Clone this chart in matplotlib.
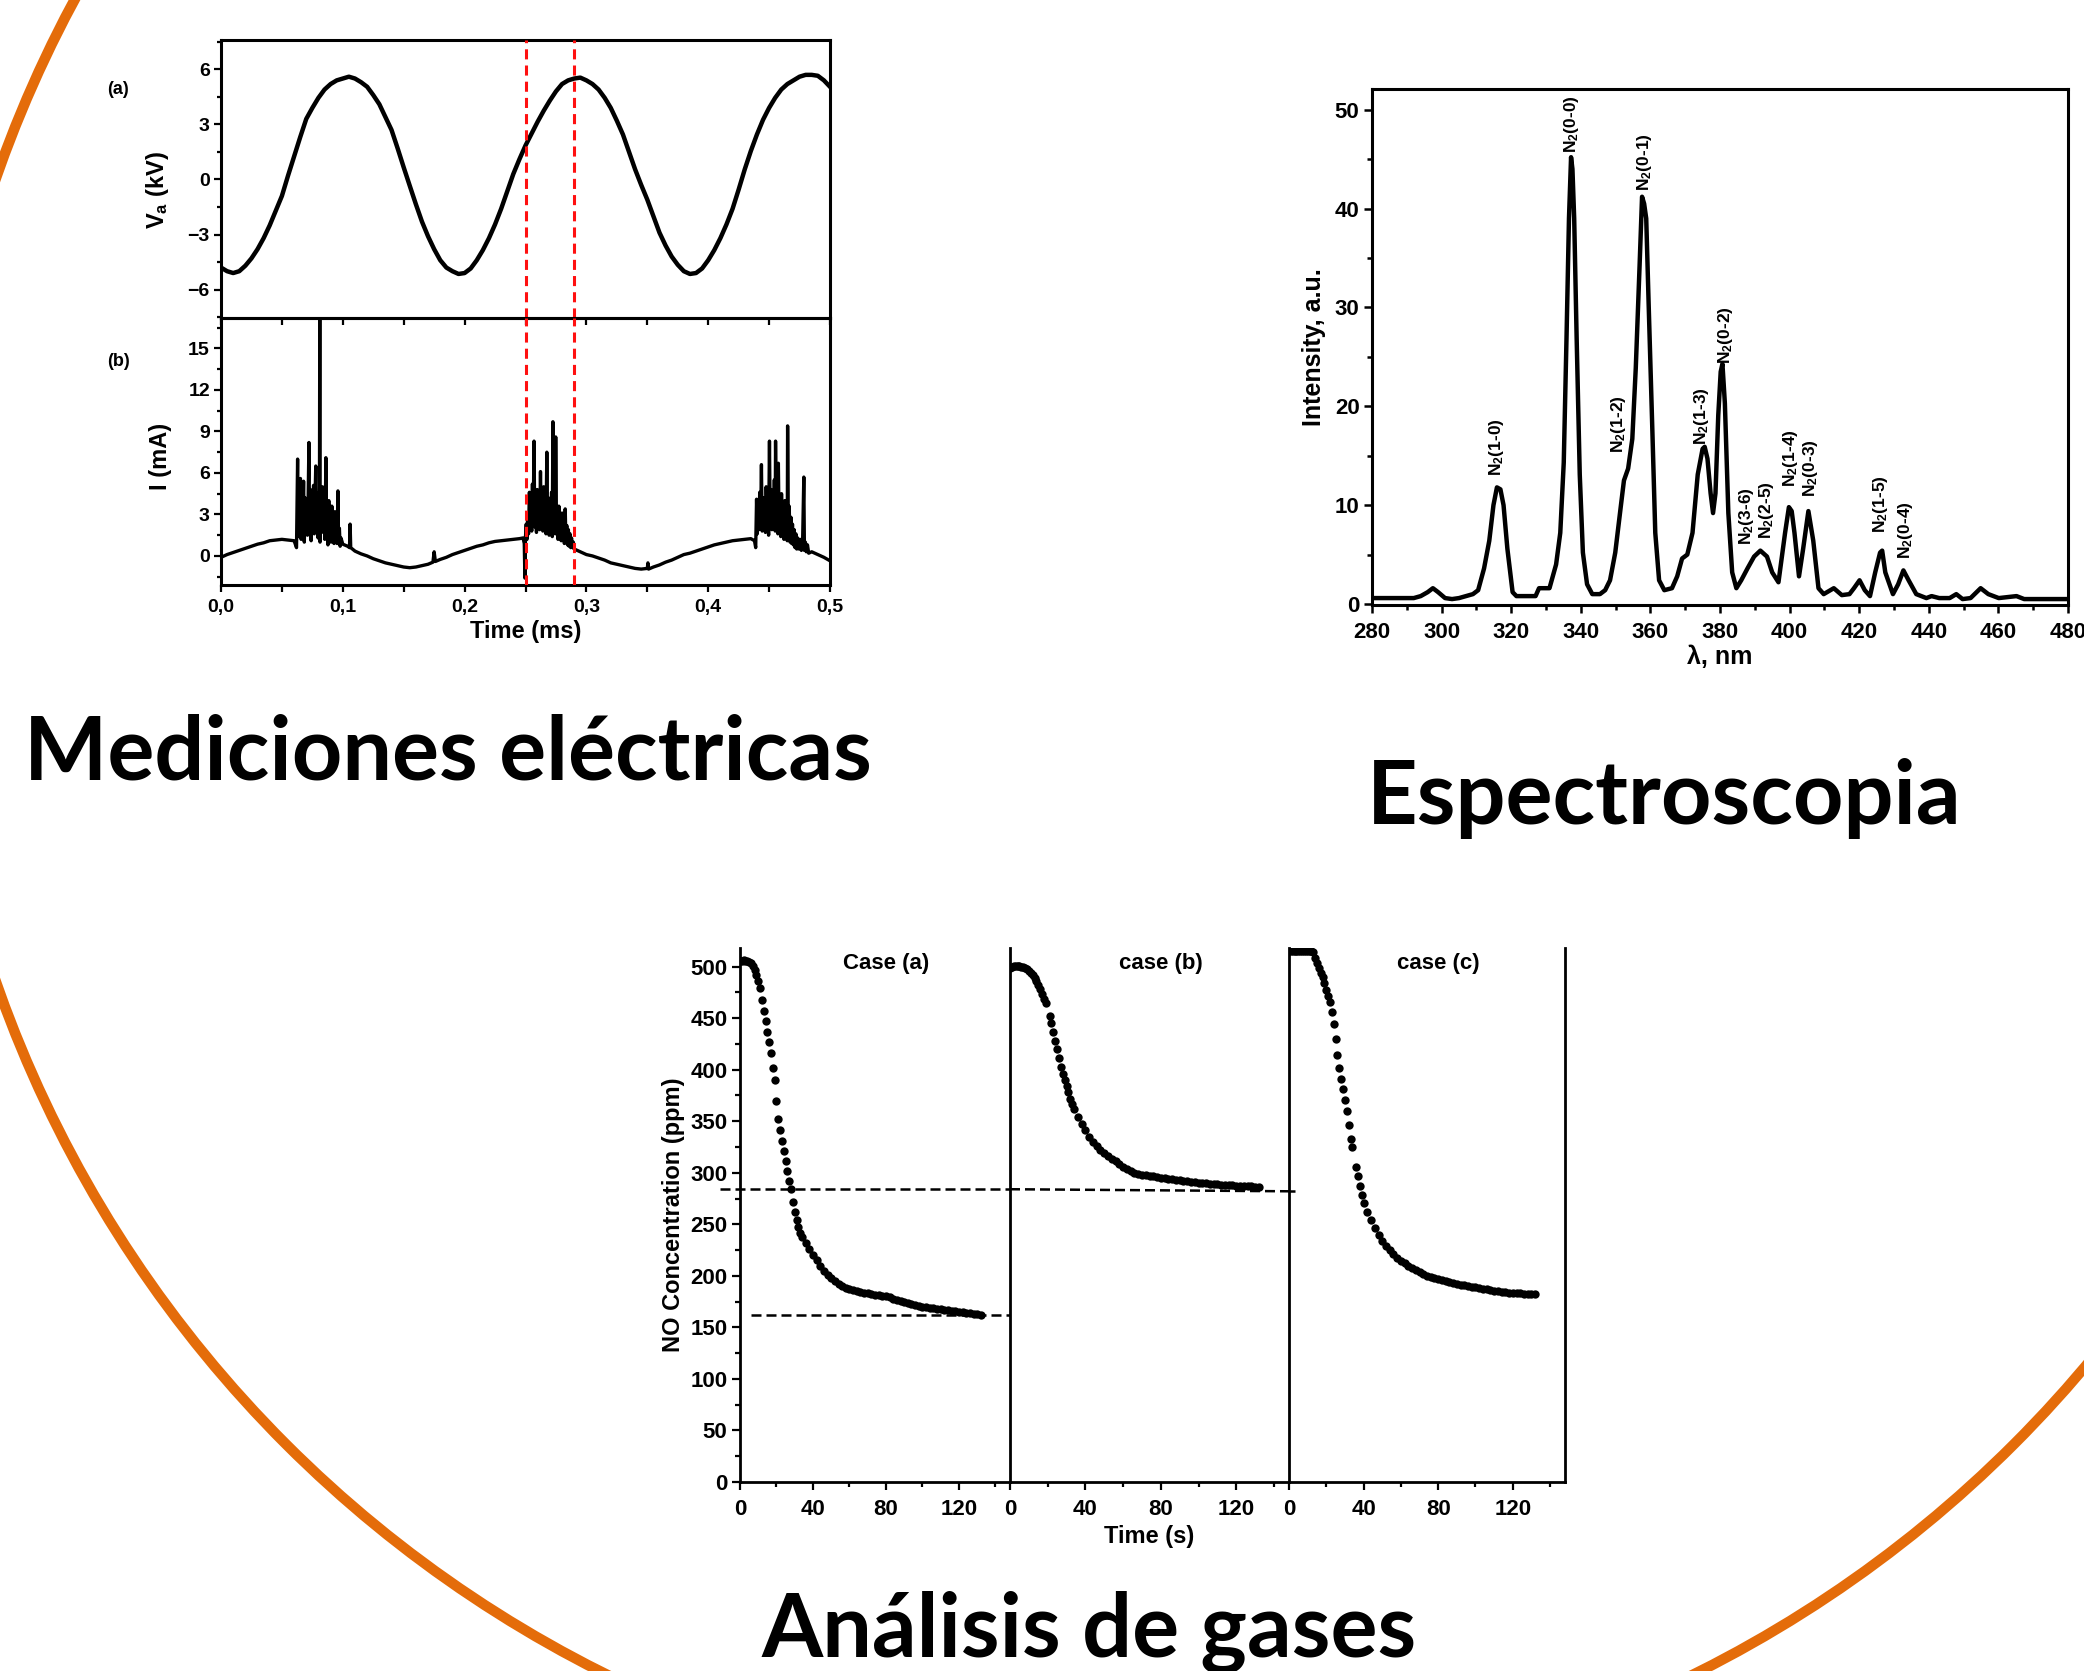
import matplotlib
matplotlib.use("Agg")
import matplotlib.pyplot as plt
import matplotlib.patches as mpatches
from matplotlib.ticker import MultipleLocator, FuncFormatter

plt.rcParams["font.family"] = ["Liberation Sans", "DejaVu Sans"]
plt.rcParams["font.weight"] = "bold"
plt.rcParams["axes.labelweight"] = "bold"
plt.rcParams["mathtext.fontset"] = "custom"
plt.rcParams["mathtext.bf"] = "Liberation Sans:bold"
plt.rcParams["mathtext.rm"] = "Liberation Sans:bold"
plt.rcParams["mathtext.default"] = "bf"

# ---------------- data ----------------
# (a) voltage V_a (kV) vs time (ms)
volt_pts = [
    (0.000, -4.8), (0.005, -5.0), (0.010, -5.1), (0.015, -5.0), (0.020, -4.7), (0.025, -4.3),
    (0.030, -3.8), (0.035, -3.2), (0.040, -2.5), (0.045, -1.7), (0.050, -0.9), (0.055, 0.2),
    (0.060, 1.25), (0.065, 2.3), (0.070, 3.3), (0.075, 3.9), (0.080, 4.45), (0.085, 4.9),
    (0.090, 5.2), (0.095, 5.4), (0.100, 5.5), (0.105, 5.6), (0.110, 5.5), (0.115, 5.3),
    (0.120, 5.05), (0.125, 4.6), (0.130, 4.1), (0.135, 3.4), (0.140, 2.7), (0.145, 1.7),
    (0.150, 0.66), (0.155, -0.35), (0.160, -1.35), (0.165, -2.3), (0.170, -3.1), (0.175, -3.8),
    (0.180, -4.4), (0.185, -4.8), (0.190, -5.0), (0.195, -5.15), (0.200, -5.1), (0.205, -4.85),
    (0.210, -4.4), (0.215, -3.85), (0.220, -3.2), (0.225, -2.45), (0.230, -1.6), (0.235, -0.65),
    (0.240, 0.3), (0.245, 1.1), (0.250, 1.85), (0.255, 2.5), (0.260, 3.15), (0.265, 3.75),
    (0.270, 4.3), (0.275, 4.8), (0.280, 5.2), (0.285, 5.4), (0.290, 5.5), (0.295, 5.55),
    (0.300, 5.4), (0.305, 5.2), (0.310, 4.9), (0.315, 4.45), (0.320, 3.9), (0.325, 3.2),
    (0.330, 2.45), (0.335, 1.5), (0.340, 0.55), (0.345, -0.3), (0.350, -1.1), (0.355, -2.0),
    (0.360, -2.9), (0.365, -3.6), (0.370, -4.2), (0.375, -4.65), (0.380, -5.0), (0.385, -5.15),
    (0.390, -5.1), (0.395, -4.85), (0.400, -4.4), (0.405, -3.85), (0.410, -3.2), (0.415, -2.45),
    (0.420, -1.6), (0.425, -0.55), (0.430, 0.55), (0.435, 1.55), (0.440, 2.45), (0.445, 3.25),
    (0.450, 3.9), (0.455, 4.45), (0.460, 4.9), (0.465, 5.2), (0.470, 5.4), (0.475, 5.6),
    (0.480, 5.7), (0.485, 5.7), (0.490, 5.65), (0.495, 5.4), (0.500, 5.05),
]

# (b) current I (mA) vs time (ms)
curr_pts = [
    (0.000, -0.1), (0.005, 0.1), (0.010, 0.25), (0.015, 0.4), (0.020, 0.55), (0.025, 0.7),
    (0.030, 0.85), (0.035, 0.95), (0.040, 1.1), (0.045, 1.15), (0.050, 1.2), (0.055, 1.15),
    (0.060, 1.1), (0.062, 0.6),
    (0.0629, 7.0), (0.0633, 1.4), (0.0640, 4.6), (0.0645, 1.8), (0.0652, 5.6), (0.0658, 1.2),
    (0.0665, 3.9), (0.0670, 2.2), (0.0678, 5.4), (0.0684, 1.0), (0.0690, 4.2), (0.0697, 2.5),
    (0.0703, 3.6), (0.0710, 1.5), (0.0716, 4.4), (0.0722, 8.2), (0.0727, 1.9), (0.0734, 4.8),
    (0.0740, 1.1), (0.0746, 3.7), (0.0753, 2.4), (0.0760, 5.1), (0.0766, 1.6), (0.0772, 4.0),
    (0.0778, 6.5), (0.0784, 2.0), (0.0790, 3.3), (0.0797, 1.3), (0.0803, 4.6), (0.0808, 2.1),
    (0.0811, 17.3), (0.0813, 1.0), (0.0820, 4.7), (0.0826, 1.7), (0.0833, 5.0), (0.0839, 2.3),
    (0.0845, 3.8), (0.0852, 1.2), (0.0858, 4.4), (0.0861, 7.1), (0.0866, 2.0), (0.0872, 3.5),
    (0.0878, 0.8), (0.0885, 4.0), (0.0891, 2.2), (0.0897, 3.1), (0.0903, 1.0), (0.0910, 3.6),
    (0.0916, 1.5), (0.0922, 2.8), (0.0928, 0.9), (0.0935, 3.2), (0.0941, 1.3), (0.0947, 2.5),
    (0.0953, 0.9), (0.0960, 4.7), (0.0965, 1.1), (0.0972, 2.0), (0.0978, 0.7), (0.0985, 1.3),
    (0.100, 0.85), (0.104, 0.7), (0.1055, 0.6), (0.106, 2.3), (0.1065, 0.6), (0.110, 0.35),
    (0.115, 0.15), (0.120, 0.0), (0.125, -0.2), (0.130, -0.35), (0.135, -0.5), (0.140, -0.6),
    (0.145, -0.7), (0.150, -0.8), (0.155, -0.85), (0.160, -0.8), (0.165, -0.7), (0.170, -0.6),
    (0.174, -0.45), (0.175, 0.3), (0.176, -0.4), (0.180, -0.25), (0.185, -0.1), (0.190, 0.1),
    (0.195, 0.25), (0.200, 0.4), (0.205, 0.55), (0.210, 0.7), (0.215, 0.8), (0.220, 0.95),
    (0.225, 1.05), (0.230, 1.1), (0.235, 1.15), (0.240, 1.2), (0.245, 1.25), (0.248, 1.3),
    (0.2490, 0.9), (0.2495, -1.6), (0.2500, 1.4), (0.2506, 2.3), (0.2512, 1.2), (0.2518, 3.0),
    (0.2525, 1.6), (0.2532, 4.6), (0.2538, 2.0), (0.2545, 3.4), (0.2551, 1.8), (0.2557, 5.2),
    (0.2563, 2.5), (0.2570, 8.3), (0.2576, 2.1), (0.2583, 4.0), (0.2590, 1.7), (0.2596, 4.8),
    (0.2603, 2.6), (0.2610, 3.9), (0.2616, 1.9), (0.2623, 6.1), (0.2629, 2.3), (0.2636, 4.4),
    (0.2642, 1.8), (0.2649, 5.0), (0.2655, 2.2), (0.2662, 3.5), (0.2668, 1.6), (0.2675, 7.5),
    (0.2681, 2.4), (0.2688, 4.2), (0.2694, 1.5), (0.2701, 3.7), (0.2707, 2.0), (0.2714, 4.6),
    (0.2720, 1.4), (0.2725, 9.7), (0.2731, 2.7), (0.2738, 3.9), (0.2744, 1.6), (0.2748, 8.6),
    (0.2754, 2.1), (0.2761, 3.3), (0.2767, 1.2), (0.2774, 3.6), (0.2780, 1.5), (0.2787, 2.9),
    (0.2793, 1.1), (0.2800, 3.1), (0.2806, 1.3), (0.2813, 2.5), (0.2819, 0.9), (0.2826, 3.4),
    (0.2832, 1.0), (0.2839, 2.2), (0.2845, 0.8), (0.2852, 1.9), (0.2858, 0.7), (0.2865, 1.6),
    (0.2871, 0.6), (0.2878, 1.3), (0.2885, 0.6), (0.2893, 1.0),
    (0.290, 0.5), (0.295, 0.3), (0.300, 0.1), (0.305, 0.0), (0.310, -0.15), (0.315, -0.3),
    (0.320, -0.5), (0.325, -0.6), (0.330, -0.7), (0.335, -0.8), (0.340, -0.9), (0.345, -0.95),
    (0.350, -0.9), (0.3505, -0.5), (0.351, -0.95), (0.355, -0.8), (0.360, -0.65), (0.365, -0.45),
    (0.370, -0.3), (0.375, -0.1), (0.380, 0.1), (0.385, 0.2), (0.390, 0.35), (0.395, 0.5),
    (0.400, 0.65), (0.405, 0.8), (0.410, 0.9), (0.415, 1.0), (0.420, 1.1), (0.425, 1.15),
    (0.430, 1.2), (0.435, 1.25), (0.438, 1.1), (0.439, 0.6),
    (0.4397, 4.1), (0.4403, 1.6), (0.4410, 3.5), (0.4416, 1.9), (0.4423, 4.6), (0.4430, 2.2),
    (0.4437, 6.6), (0.4443, 1.8), (0.4450, 4.2), (0.4456, 2.5), (0.4463, 3.6), (0.4470, 1.7),
    (0.4476, 5.0), (0.4483, 2.4), (0.4490, 3.9), (0.4496, 1.5), (0.4503, 8.3), (0.4509, 2.2),
    (0.4516, 4.8), (0.4523, 1.9), (0.4530, 3.4), (0.4536, 2.6), (0.4543, 5.5), (0.4550, 1.8),
    (0.4553, 8.3), (0.4559, 2.4), (0.4566, 4.3), (0.4572, 1.6), (0.4576, 6.7), (0.4582, 2.1),
    (0.4589, 3.8), (0.4596, 1.4), (0.4602, 4.5), (0.4609, 2.0), (0.4616, 3.3), (0.4622, 1.2),
    (0.4629, 4.0), (0.4636, 1.8), (0.4643, 3.0), (0.4649, 1.1), (0.4652, 9.4), (0.4658, 1.5),
    (0.4665, 3.6), (0.4672, 1.0), (0.4679, 2.8), (0.4685, 0.9), (0.4692, 2.3), (0.4699, 0.8),
    (0.4706, 1.9), (0.4713, 0.6), (0.4720, 1.6), (0.4727, 0.5), (0.4735, 1.3), (0.4745, 0.5),
    (0.4755, 1.2), (0.4765, 0.4), (0.4775, 1.0), (0.4785, 5.7), (0.4790, 0.4), (0.4798, 1.0),
    (0.4805, 0.3), (0.4815, 0.8), (0.4825, 0.2),
    (0.485, 0.3), (0.490, 0.1), (0.495, -0.1), (0.500, -0.35),
]
discharge_marks = [0.25, 0.29]

# emission spectrum: wavelength (nm), intensity (a.u.)
spec_pts = [
    (280, 0.6), (286, 0.6), (292, 0.6), (294, 0.8), (296, 1.2), (297.5, 1.6), (299, 1.2),
    (301, 0.6), (303, 0.5), (305, 0.6), (307, 0.8), (309, 1.0), (310.5, 1.4), (312.2, 3.6),
    (313.7, 6.4), (314.9, 10.0), (315.9, 11.8), (316.9, 11.6), (317.8, 10.0), (318.9, 5.6),
    (320.4, 1.2), (321.5, 0.8), (324, 0.8), (327, 0.8), (328, 1.6), (331, 1.6), (332.9, 4.0),
    (334.1, 7.2), (335.1, 14.3), (335.9, 27.0), (336.6, 39.0), (337.2, 45.2), (337.6, 44.0),
    (338.1, 39.0), (338.8, 27.0), (339.7, 13.1), (340.6, 5.2), (341.8, 2.0), (343.3, 1.0),
    (345.5, 1.0), (347, 1.4), (348.4, 2.4), (349.9, 5.2), (351.4, 9.6), (352.4, 12.5),
    (353.6, 13.7), (354.8, 16.7), (355.8, 23.9), (356.9, 34.3), (357.6, 41.2), (358.2, 40.5),
    (358.8, 39.0), (359.5, 30.3), (360.6, 17.1), (361.4, 7.2), (362.5, 2.4), (364, 1.4),
    (366.2, 1.6), (367.7, 2.8), (369.1, 4.6), (370.6, 5.0), (372.1, 7.2), (373.6, 13.1),
    (375, 15.7), (375.6, 15.9), (376.4, 14.7), (377.3, 11.2), (378, 9.2), (378.7, 11.2),
    (379.5, 19.1), (380.2, 23.5), (380.7, 24.3), (381.4, 20.3), (382.4, 9.2), (383.5, 3.2),
    (384.7, 1.6), (386.1, 2.4), (387.9, 3.6), (389.8, 4.8), (391.6, 5.4), (393.5, 4.8),
    (395, 3.2), (396.8, 2.2), (398.7, 7.2), (399.8, 9.8), (400.6, 9.4), (401.4, 7.2),
    (402.7, 2.8), (403.9, 5.6), (405.4, 9.4), (406.8, 6.4), (408.3, 1.6), (409.8, 1.0),
    (412.7, 1.6), (415, 0.9), (417.2, 1.0), (418.5, 1.6), (420.1, 2.4), (421.6, 1.4),
    (423.1, 0.8), (424.6, 3.2), (426, 5.2), (426.6, 5.4), (427.5, 3.2), (429.7, 1.0),
    (431.2, 2.0), (432.7, 3.4), (434.2, 2.4), (436.4, 1.0), (439.3, 0.6), (440.8, 0.8),
    (443, 0.6), (446, 0.6), (447.9, 1.0), (449.7, 0.5), (452, 0.6), (454.9, 1.6), (457.1, 1.0),
    (460.1, 0.6), (465.2, 0.8), (467.4, 0.5), (472, 0.5), (480, 0.5),
]
band_labels = [
    ("N$_2$(1-0)", 315.9, 13.0), ("N$_2$(0-0)", 337.4, 45.6), ("N$_2$(1-2)", 350.7, 15.3),
    ("N$_2$(0-1)", 358.3, 41.8), ("N$_2$(1-3)", 374.6, 16.1), ("N$_2$(0-2)", 381.7, 24.3),
    ("N$_2$(3-6)", 387.6, 6.0), ("N$_2$(2-5)", 393.5, 6.6), ("N$_2$(1-4)", 400.2, 11.8),
    ("N$_2$(0-3)", 406.1, 10.8), ("N$_2$(1-5)", 426.0, 7.2), ("N$_2$(0-4)", 433.4, 4.6),
]

# NO concentration (ppm) vs time (s), three cases
case_names = ["Case (a)", "case (b)", "case (c)"]
t_a = [0, 1, 2, 3, 4, 5, 6, 7, 8, 9, 10, 11, 12, 13, 14, 15, 16, 17, 18, 19, 20, 21, 22, 23,
       24, 25, 26, 27, 28, 29, 30, 31, 32, 33, 34, 36, 38, 40, 42, 44, 46, 48, 50, 52, 54, 56,
       58, 60, 62, 64, 66, 68, 70, 72, 74, 76, 78, 80, 82, 84, 86, 88, 90, 92, 94, 96, 98, 100,
       102, 104, 106, 108, 110, 112, 114, 116, 118, 120, 122, 124, 126, 128, 130, 132]
no_a = [505, 505, 506, 505, 505, 504, 503, 501, 497, 492, 486, 479, 468, 457, 447, 437, 427,
        416, 402, 390, 370, 352, 341, 331, 321, 311, 302, 292, 284, 272, 262, 254, 247, 242,
        238, 232, 226, 220, 215, 210, 205, 201, 198, 195, 192, 190, 188, 187, 186, 185, 184,
        183, 183, 182, 181, 181, 180, 180, 179, 178, 177, 176, 175, 174, 173, 172, 171, 170,
        170, 169, 169, 168, 168, 167, 167, 166, 166, 165, 165, 164, 164, 163, 163, 162]
t_b = [0, 1, 2, 3, 4, 5, 6, 7, 8, 9, 10, 11, 12, 13, 14, 15, 16, 17, 18, 19, 21, 22, 23, 24,
       25, 26, 27, 28, 29, 30, 31, 32, 33, 34, 36, 38, 40, 42, 44, 46, 48, 50, 52, 54, 56, 58,
       60, 62, 64, 66, 68, 70, 72, 74, 76, 78, 80, 82, 84, 86, 88, 90, 92, 94, 96, 98, 100, 102,
       104, 106, 108, 110, 112, 114, 116, 118, 120, 122, 124, 126, 128, 130, 132]
no_b = [499, 500, 501, 501, 501, 501, 500, 500, 499, 498, 496, 494, 492, 489, 486, 482, 478,
        473, 469, 465, 452, 445, 437, 428, 420, 411, 403, 396, 390, 384, 378, 372, 367, 362,
        354, 347, 341, 335, 330, 326, 322, 319, 316, 313, 311, 308, 306, 304, 302, 300, 299,
        298, 298, 297, 297, 296, 295, 295, 294, 294, 293, 293, 292, 292, 291, 291, 290, 290,
        290, 289, 289, 289, 288, 288, 288, 288, 287, 287, 287, 287, 287, 286, 286]
t_c = [0, 1, 2, 3, 4, 5, 6, 7, 8, 9, 10, 11, 12, 13, 14, 15, 16, 17, 18, 19, 20, 21, 22, 23,
       24, 25, 26, 27, 28, 29, 30, 31, 32, 33, 34, 36, 37, 38, 39, 40, 42, 44, 46, 48, 50, 52,
       54, 56, 58, 60, 62, 64, 66, 68, 70, 72, 74, 76, 78, 80, 82, 84, 86, 88, 90, 92, 94, 96,
       98, 100, 102, 104, 106, 108, 110, 112, 114, 116, 118, 120, 122, 124, 126, 128, 130, 132]
no_c = [515, 515, 515, 515, 515, 515, 515, 515, 515, 515, 515, 515, 515, 514, 508, 503, 499,
        494, 490, 484, 477, 471, 466, 456, 444, 430, 414, 402, 391, 381, 371, 360, 346, 333,
        325, 306, 297, 287, 278, 271, 262, 254, 246, 240, 234, 229, 225, 221, 217, 214, 212,
        210, 208, 206, 204, 202, 200, 199, 198, 197, 196, 195, 194, 193, 192, 191, 191, 190,
        189, 189, 188, 187, 187, 186, 185, 185, 184, 184, 183, 183, 183, 183, 182, 182, 182, 182]
ref_upper = 284
ref_lower = 162

titles = ["Mediciones eléctricas", "Espectroscopia", "Análisis de gases"]

# ---------------- figure ----------------
W, H = 2084, 1671
fig = plt.figure(figsize=(W / 100, H / 100), dpi=100)


def px_axes(left, top, right, bottom):
    ax = fig.add_axes([left / W, 1 - bottom / H, (right - left) / W, (bottom - top) / H], zorder=2)
    ax.set_facecolor("none")
    return ax


def style_spines(ax, lw):
    for s in ax.spines.values():
        s.set_linewidth(lw)


# background: orange ring + section titles
bg = fig.add_axes([0, 0, 1, 1], zorder=0)
bg.set_xlim(0, W)
bg.set_ylim(H, 0)
bg.axis("off")
bg.add_patch(mpatches.Circle((1150, 580), 1222, fill=False, ec="#E46C0A", lw=7.5))

comma = FuncFormatter(lambda x, _: f"{x:.1f}".replace(".", ","))

# ---- electrical measurements ----
ax_v = px_axes(221, 40, 830, 318)
ax_i = px_axes(221, 318, 830, 585)

ax_v.plot([p[0] for p in volt_pts], [p[1] for p in volt_pts], color="black", lw=3.2)
ax_i.plot([p[0] for p in curr_pts], [p[1] for p in curr_pts], color="black", lw=2.4)

ax_v.set_xlim(0, 0.5)
ax_v.set_ylim(-7.55, 7.6)
ax_i.set_xlim(0, 0.5)
ax_i.set_ylim(-2.1, 17.2)
ax_v.set_yticks([-6, -3, 0, 3, 6])
ax_v.yaxis.set_minor_locator(MultipleLocator(1.5))
ax_i.set_yticks([0, 3, 6, 9, 12, 15])
ax_i.yaxis.set_minor_locator(MultipleLocator(1.5))
for ax in (ax_v, ax_i):
    ax.xaxis.set_major_locator(MultipleLocator(0.1))
    ax.xaxis.set_minor_locator(MultipleLocator(0.05))
    ax.tick_params(axis="y", which="both", direction="out", left=True, right=False,
                   labelsize=14, width=1.6, pad=3)
    ax.tick_params(axis="y", which="major", length=5)
    ax.tick_params(axis="y", which="minor", length=3)
    style_spines(ax, 2.2)
    for x0 in discharge_marks:
        ax.axvline(x0, color="#FF1010", ls=(0, (3.3, 2)), lw=2.2, zorder=3)
ax_v.tick_params(axis="x", which="both", direction="out", bottom=True, top=False,
                 labelbottom=False, length=5, width=1.6)
ax_i.tick_params(axis="x", which="both", direction="out", bottom=True, top=False,
                 labelsize=14, length=5, width=1.6, pad=5)
ax_i.xaxis.set_major_formatter(comma)
ax_v.set_ylabel("V$_a$ (kV)", fontsize=17)
ax_i.set_ylabel("I (mA)", fontsize=17)
ax_i.set_xlabel("Time (ms)", fontsize=17, labelpad=3)
ax_v.yaxis.set_label_coords(-0.082, 0.46)
ax_i.yaxis.set_label_coords(-0.080, 0.48)
bg.text(118, 90, "(a)", fontsize=13, weight="bold", ha="center", va="center")
bg.text(118, 361, "(b)", fontsize=13, weight="bold", ha="center", va="center")

# ---- spectroscopy ----
ax_s = px_axes(1372, 89, 2068, 605)
ax_s.plot([p[0] for p in spec_pts], [p[1] for p in spec_pts], color="black", lw=3.2)
ax_s.set_xlim(280, 480)
ax_s.set_ylim(-0.1, 52.1)
ax_s.xaxis.set_major_locator(MultipleLocator(20))
ax_s.xaxis.set_minor_locator(MultipleLocator(10))
ax_s.yaxis.set_major_locator(MultipleLocator(10))
ax_s.yaxis.set_minor_locator(MultipleLocator(5))
ax_s.tick_params(which="both", direction="out", top=False, right=False, labelsize=16,
                 width=1.8)
ax_s.tick_params(axis="x", pad=6)
ax_s.tick_params(axis="y", pad=3)
ax_s.tick_params(which="major", length=6)
ax_s.tick_params(which="minor", length=3.5)
style_spines(ax_s, 2.2)
for lab, x0, y0 in band_labels:
    ax_s.text(x0, y0, lab, rotation=90, ha="center", va="bottom", fontsize=12.5,
              weight="bold")
ax_s.set_ylabel("Intensity, a.u.", fontsize=18, labelpad=6)
ax_s.set_xlabel("λ, nm", fontsize=18, labelpad=2)

# ---- gas analysis ----
ax_a = px_axes(740, 948, 1010, 1482)
ax_b = px_axes(1010, 948, 1289, 1482)
ax_c = px_axes(1289, 948, 1565, 1482)
series = [(t_a, no_a), (t_b, no_b), (t_c, no_c)]
for ax, (tt, vv), name in zip((ax_a, ax_b, ax_c), series, case_names):
    ax.plot(tt, vv, "o", color="black", ms=6, mew=0)
    ax.set_xlim(0, 148)
    ax.set_ylim(0, 518)
    ax.set_xticks([0, 40, 80, 120])
    ax.set_xticks([20, 60, 100, 140], minor=True)
    ax.tick_params(axis="x", which="both", direction="out", labelsize=16, width=1.6, pad=6)
    ax.tick_params(axis="x", which="major", length=6)
    ax.tick_params(axis="x", which="minor", length=3.5)
    ax.spines["top"].set_visible(False)
    style_spines(ax, 2.0)
    ax.text(80, 503, name, ha="center", va="center", fontsize=16, weight="bold")
ax_a.spines["right"].set_visible(False)
ax_b.spines["right"].set_visible(False)
ax_a.yaxis.set_major_locator(MultipleLocator(50))
ax_a.yaxis.set_minor_locator(MultipleLocator(25))
ax_a.tick_params(axis="y", which="both", direction="out", labelsize=16, width=1.6, pad=3)
ax_a.tick_params(axis="y", which="major", length=6)
ax_a.tick_params(axis="y", which="minor", length=3.5)
for ax in (ax_b, ax_c):
    ax.tick_params(axis="y", which="both", left=False, labelleft=False)
ax_a.set_ylabel("NO Concentration (ppm)", fontsize=17, labelpad=4)
ax_b.set_xlabel("Time (s)", fontsize=17, labelpad=4)

dash = (0, (4, 2))
ax_a.plot([-11, 148], [ref_upper, ref_upper], color="black", ls=dash, lw=1.8, clip_on=False)
ax_b.plot([0, 148], [ref_upper, ref_upper - 2], color="black", ls=dash, lw=1.8, clip_on=False)
ax_c.plot([0, 3], [ref_upper - 2, ref_upper - 2], color="black", ls=dash, lw=1.8, clip_on=False)
ax_a.plot([6, 148], [ref_lower, ref_lower], color="black", ls=dash, lw=1.8, clip_on=False)

# ---- section titles, sized to the reference widths ----
title_boxes = [(24, 780, 856), (1367, 824, 583), (761, 1657, 661)]
fig.canvas.draw()
rend = fig.canvas.get_renderer()
objs, ratios = [], []
for txt, (x0, y0, wpx) in zip(titles, title_boxes):
    t = bg.text(x0, y0, txt, fontsize=60, family=["Lato", "DejaVu Sans"], weight="bold",
                ha="left", va="baseline")
    ratios.append(wpx / t.get_window_extent(rend).width)
    objs.append(t)
size = 60 * sum(ratios) / len(ratios)
for t in objs:
    t.set_fontsize(size)

fig.savefig("out.png", dpi=100)
